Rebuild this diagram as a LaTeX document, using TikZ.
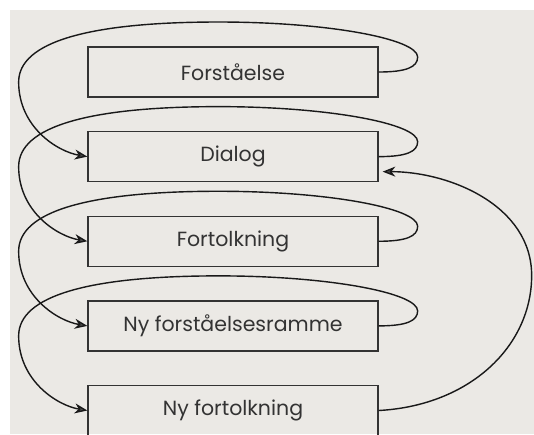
\documentclass[tikz,border=0pt]{standalone}
\usepackage{fontspec}
\setmainfont{Poppins}
\usetikzlibrary{positioning,arrows.meta}
\definecolor{paper}{HTML}{EBE9E5}

\begin{document}
\begin{tikzpicture}[x=0.03cm, y=-0.03cm, node distance=1cm,
stagebox/.style={rectangle, draw=black!80, line width=1.1pt, minimum width=8.7cm, minimum height=1.5cm, font=\fontsize{17.5}{21}\selectfont, text=black!80},
flow/.style={line width=1.2pt, draw=black!90, -{Stealth[length=3.8mm, width=3mm, inset=1.2mm, fill=black!70]}},
loopback/.style={to path={.. controls +(28,0) and +(0,10) .. ([shift={(39,-15)}]\tikztostart)
  .. controls +(0,-18) and +(110,0) .. ([shift={(-160,-50)}]\tikztostart)
  .. controls +(-130,0) and +(0,-40) .. ([shift={(-360,10)}]\tikztostart)
  .. controls +(0,45) and +(-30,-5) .. (\tikztotarget)}},
]
\useasboundingbox (0,0) rectangle (534,434);
\fill[white] (0,0) rectangle (534,434);
\fill[paper] (10,10) rectangle (534,434);

%Nodes
\node[stagebox]      (Forstaaelse)       at (233,72)              {Forståelse};
\node[stagebox]      (Dialog)            [below=of Forstaaelse]   {Dialog};
\node[stagebox]      (Fortolkning)       [below=of Dialog]        {Fortolkning};
\node[stagebox]      (Ramme)             [below=of Fortolkning]   {Ny forståelsesramme};
\node[stagebox]      (NyFortolkning)     [below=of Ramme]         {Ny fortolkning};

%Lines
\draw[flow, loopback] (Forstaaelse.east) to (Dialog.west);
\draw[flow, loopback] (Dialog.east) to (Fortolkning.west);
\draw[flow, loopback] (Fortolkning.east) to (Ramme.west);
\draw[flow, loopback] (Ramme.east) to (NyFortolkning.west);
\draw[flow] (NyFortolkning.east) .. controls +(92,-5) and +(0,70) .. ([shift={(153,-135)}]NyFortolkning.east)
  .. controls +(0,-70) and +(67,0) .. ([shift={(4,15)}]Dialog.east);

\end{tikzpicture}
\end{document}
